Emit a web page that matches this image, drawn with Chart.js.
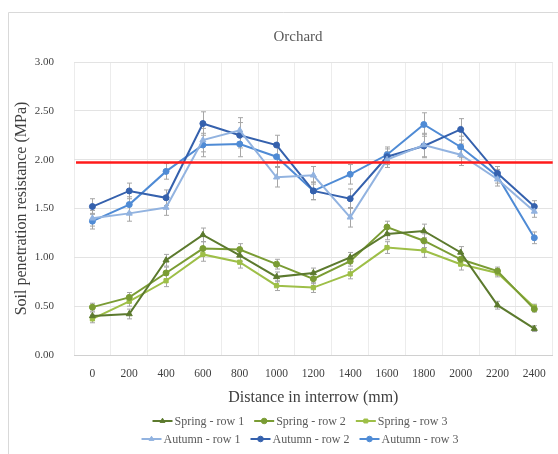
<!DOCTYPE html>
<html>
<head>
<meta charset="utf-8">
<title>Orchard</title>
<script src="https://cdn.jsdelivr.net/npm/chart.js@4.4.1/dist/chart.umd.min.js"></script>
<style>
    html, body { margin:0; padding:0; background:#ffffff; }
    #wrap { width:558px; height:454px; }
</style>
</head>
<body>
<div id="wrap"><canvas id="chartOrchard" width="558" height="454"></canvas></div>
<script>
// values (MPa)
var distances   =   ['0','200','400','600','800','1000','1200','1400','1600','1800','2000','2200','2400'];

var springRow1  =   [0.40, 0.42, 0.97, 1.23, 1.02, 0.80, 0.84, 1.00, 1.24, 1.27, 1.05, 0.51, 0.27];
var springRow2  =   [0.49, 0.59, 0.84, 1.09, 1.08, 0.93, 0.78, 0.96, 1.31, 1.17, 0.98, 0.86, 0.47];
var springRow3  =   [0.37, 0.55, 0.76, 1.03, 0.95, 0.71, 0.69, 0.83, 1.10, 1.07, 0.93, 0.84, 0.49];

var autumnRow1  =   [1.40, 1.45, 1.51, 2.20, 2.30, 1.82, 1.84, 1.41, 2.00, 2.15, 2.05, 1.80, 1.47];
var autumnRow2  =   [1.52, 1.68, 1.61, 2.37, 2.25, 2.15, 1.68, 1.60, 2.03, 2.14, 2.31, 1.86, 1.52];
var autumnRow3  =   [1.37, 1.54, 1.88, 2.15, 2.16, 2.03, 1.68, 1.85, 2.05, 2.36, 2.13, 1.83, 1.20];

// error bar half-heights
var springErr   =   [0.04, 0.05, 0.06, 0.07, 0.06, 0.05, 0.05, 0.05, 0.06, 0.07, 0.06, 0.04, 0.03];
var autumnErr   =   [0.08, 0.08, 0.08, 0.12, 0.13, 0.10, 0.09, 0.10, 0.08, 0.12, 0.11, 0.07, 0.06];

var yTicks      =   [0, 0.5, 1, 1.5, 2, 2.5, 3];
var threshold   =   1.97;

var serif       =   "'Liberation Serif', 'Times New Roman', serif";
var textGrey    =   '#595959';
var textDark    =   '#3f3f3f';

function makeSet(label, values, err, color, style) {
    return {
        label               :   label,
        data                :   values,
        err                 :   err,
        borderColor         :   color,
        backgroundColor     :   color,
        borderWidth         :   2,
        pointStyle          :   style,
        pointRadius         :   style === 'triangle' ? 3.5 : 3,
        pointBorderWidth    :   1,
        tension             :   0
    };
}

var datasets = [
    makeSet('Spring - row 1', springRow1, springErr, '#5c7a2e', 'triangle'),
    makeSet('Spring - row 2', springRow2, springErr, '#7a9c34', 'circle'),
    makeSet('Spring - row 3', springRow3, springErr, '#9ebf48', 'rect'),
    makeSet('Autumn - row 1', autumnRow1, autumnErr, '#92b3e0', 'triangle'),
    makeSet('Autumn - row 2', autumnRow2, autumnErr, '#3561ad', 'circle'),
    makeSet('Autumn - row 3', autumnRow3, autumnErr, '#4f8bd5', 'circle')
];

var extrasPlugin = {
    id: 'extras',
    beforeDraw: function (chart) {
        var ctx = chart.ctx;
        ctx.save();
        ctx.strokeStyle = '#d9d9d9';
        ctx.lineWidth = 1;
        ctx.beginPath();
        ctx.moveTo(8.5, 454);
        ctx.lineTo(8.5, 12.5);
        ctx.lineTo(558, 12.5);
        ctx.stroke();
        ctx.restore();
    },
    beforeDatasetsDraw: function (chart) {
        var ctx = chart.ctx;
        var x = chart.scales.x, y = chart.scales.y;
        ctx.save();
        ctx.strokeStyle = '#a6a6a6';
        ctx.lineWidth = 1;
        chart.data.datasets.forEach(function (ds) {
            ds.data.forEach(function (v, i) {
                var px = Math.round(x.getPixelForValue(i)) + 0.5;
                var top = y.getPixelForValue(v + ds.err[i]);
                var bot = y.getPixelForValue(v - ds.err[i]);
                ctx.beginPath();
                ctx.moveTo(px, top); ctx.lineTo(px, bot);
                ctx.moveTo(px - 2.5, top); ctx.lineTo(px + 2.5, top);
                ctx.moveTo(px - 2.5, bot); ctx.lineTo(px + 2.5, bot);
                ctx.stroke();
            });
        });
        ctx.restore();
    },
    afterDatasetsDraw: function (chart) {
        var ctx = chart.ctx;
        var area = chart.chartArea;
        var py = chart.scales.y.getPixelForValue(threshold);
        ctx.save();
        ctx.strokeStyle = '#ff1a1a';
        ctx.lineWidth = 2.5;
        ctx.beginPath();
        ctx.moveTo(area.left + 2, py);
        ctx.lineTo(area.right, py);
        ctx.stroke();
        ctx.restore();
    },
    afterDraw: function (chart) {
        var ctx = chart.ctx;
        ctx.save();
        // title
        ctx.fillStyle = textGrey;
        ctx.font = '15px ' + serif;
        ctx.textAlign = 'center';
        ctx.textBaseline = 'middle';
        ctx.fillText('Orchard', 298, 37);

        // legend, two rows of three
        ctx.font = '12px ' + serif;
        ctx.textAlign = 'left';
        var iconW = 20, gap = 10;
        var rowsY = [421, 439];
        for (var r = 0; r < 2; r++) {
            var items = chart.data.datasets.slice(r * 3, r * 3 + 3);
            var total = 0;
            items.forEach(function (ds) { total += iconW + 2 + ctx.measureText(ds.label).width; });
            total += gap * 2;
            var lx = 300 - total / 2;
            items.forEach(function (ds) {
                var cy = rowsY[r];
                ctx.strokeStyle = ds.borderColor;
                ctx.fillStyle = ds.borderColor;
                ctx.lineWidth = 2;
                ctx.beginPath();
                ctx.moveTo(lx, cy); ctx.lineTo(lx + iconW, cy);
                ctx.stroke();
                ctx.lineWidth = 1;
                Chart.helpers.drawPoint(ctx, {pointStyle: ds.pointStyle, radius: 2.8, rotation: 0, borderWidth: 1}, lx + iconW / 2, cy);
                ctx.fillStyle = textGrey;
                ctx.fillText(ds.label, lx + iconW + 2, cy + 0.5);
                lx += iconW + 2 + ctx.measureText(ds.label).width + gap;
            });
        }
        ctx.restore();
    }
};

var orchardChart = document.getElementById('chartOrchard').getContext('2d');
new Chart(orchardChart, {
    type: 'line',
    data: {
        labels: distances,
        datasets: datasets
    },
    options: {
        responsive: false,
        animation: false,
        layout: { padding: { left: 8, top: 62, right: 0, bottom: 46 } },
        plugins: {
            legend: { display: false },
            tooltip: { enabled: false }
        },
        scales: {
            x: {
                type: 'category',
                offset: true,
                grid: { offset: true, color: '#ececec', drawTicks: false },
                border: { color: '#d0d0d0' },
                ticks: { color: textDark, font: { family: serif, size: 11.5 }, padding: 12, maxRotation: 0, autoSkip: false },
                title: {
                    display: true,
                    text: 'Distance in interrow (mm)',
                    color: textDark,
                    font: { family: serif, size: 16 },
                    padding: { top: 4, bottom: 1 }
                },
                afterFit: function (scale) { scale.height = 53; }
            },
            y: {
                min: 0,
                max: 3,
                afterBuildTicks: function (scale) { scale.ticks = yTicks.map(function (v) { return { value: v }; }); },
                grid: { color: '#e3e3e3', drawTicks: false },
                border: { display: false },
                ticks: {
                    color: textDark,
                    font: { family: serif, size: 11 },
                    padding: 20,
                    callback: function (v) { return Number(v).toFixed(2); }
                },
                title: {
                    display: true,
                    text: 'Soil penetration resistance (MPa)',
                    color: textDark,
                    font: { family: serif, size: 16 },
                    padding: { top: 4, bottom: 0 }
                },
                afterFit: function (scale) { scale.width = 66; }
            }
        }
    },
    plugins: [extrasPlugin]
});
</script>
</body>
</html>
